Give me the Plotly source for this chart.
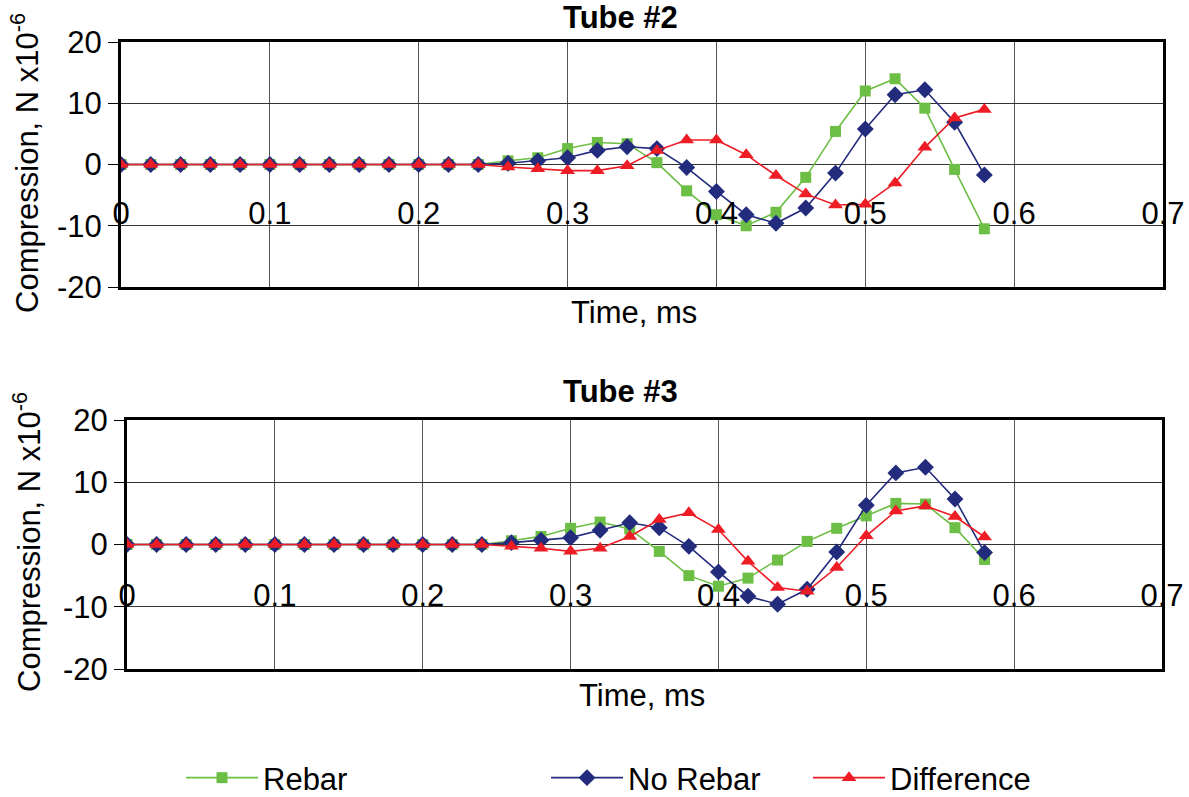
import plotly.graph_objects as go

time_ms = [0.00, 0.02, 0.04, 0.06, 0.08, 0.10, 0.12, 0.14, 0.16, 0.18,
           0.20, 0.22, 0.24, 0.26, 0.28, 0.30, 0.32, 0.34, 0.36, 0.38,
           0.40, 0.42, 0.44, 0.46, 0.48, 0.50, 0.52, 0.54, 0.56, 0.58]

zeros12 = [0] * 12

# Tube #2
t2_rebar = zeros12 + [0, 0.6, 1.1, 2.6, 3.6, 3.4, 0.3, -4.3, -8.2,
                      -10.0, -7.8, -2.1, 5.4, 12.0, 14.0, 9.2, -0.8, -10.5]
t2_norebar = zeros12 + [0, 0.2, 0.6, 1.1, 2.3, 2.9, 2.6, -0.5, -4.4,
                        -8.2, -9.6, -7.1, -1.4, 5.8, 11.4, 12.2, 6.9, -1.7]
t2_diff = zeros12 + [0, -0.4, -0.7, -1.0, -1.0, -0.2, 2.3, 4.0, 4.0,
                     1.6, -1.8, -4.8, -6.6, -6.5, -3.0, 2.8, 7.6, 9.0]

# Tube #3
t3_rebar = zeros12 + [0, 0.6, 1.3, 2.6, 3.6, 2.5, -1.1, -5.0, -6.7,
                      -5.4, -2.5, 0.5, 2.6, 4.6, 6.6, 6.5, 2.7, -2.4]
t3_norebar = zeros12 + [0, 0.3, 0.7, 1.1, 2.3, 3.5, 2.7, -0.3, -4.4,
                        -8.3, -9.6, -7.2, -1.2, 6.3, 11.5, 12.4, 7.3, -1.3]
t3_diff = zeros12 + [0, -0.3, -0.6, -1.1, -0.6, 1.3, 4.0, 5.1, 2.4,
                     -2.7, -6.9, -7.5, -3.7, 1.4, 5.4, 6.2, 4.5, 1.2]

x_tickvals = [0, 0.1, 0.2, 0.3, 0.4, 0.5, 0.6, 0.7]
x_ticktext = ["0", "0.1", "0.2", "0.3", "0.4", "0.5", "0.6", "0.7"]
y_tickvals = [-20, -10, 0, 10, 20]
y_ticktext = ["-20", "-10", "0", "10", "20"]

series_names = ["Rebar", "No Rebar", "Difference"]
colors = ["#6CBE45", "#232B7D", "#EE1C25"]
symbols = ["square", "diamond", "triangle-up"]
sizes = [11, 13, 13]

FONT = "Arial, 'Liberation Sans', sans-serif"
W, H = 1189, 797

fig = go.Figure()

panels = [
    ([t2_rebar, t2_norebar, t2_diff], "x", "y", True),
    ([t3_rebar, t3_norebar, t3_diff], "x2", "y2", False),
]
legends = ["legend", "legend2", "legend3"]
for data, xa, ya, show in panels:
    for i, vals in enumerate(data):
        fig.add_trace(go.Scatter(
            x=time_ms, y=vals, name=series_names[i], mode="lines+markers",
            line=dict(color=colors[i], width=1.6),
            marker=dict(symbol=symbols[i], size=sizes[i], color=colors[i]),
            xaxis=xa, yaxis=ya, showlegend=show, legend=legends[i],
        ))

def px_x(p):
    return p / W

def px_y(p):
    return 1 - p / H

xaxis_common = dict(
    range=[0, 0.7], tickvals=x_tickvals, ticktext=x_ticktext,
    showgrid=True, gridcolor="#555555", gridwidth=1,
    showline=True, linecolor="black", linewidth=3, mirror=True,
    ticks="", zeroline=False, automargin=False,
    tickfont=dict(family=FONT, size=31, color="black"),
    ticklabelstandoff=-103,
)
yaxis_common = dict(
    range=[-20, 20], tickvals=y_tickvals, ticktext=y_ticktext,
    showgrid=True, gridcolor="#333333", gridwidth=1,
    showline=True, linecolor="black", linewidth=3, mirror=True,
    ticks="outside", ticklen=10, tickcolor="black", tickwidth=1,
    zeroline=False, automargin=False,
    tickfont=dict(family=FONT, size=31, color="black"),
)

fig.update_layout(
    width=W, height=H,
    margin=dict(l=0, r=0, t=0, b=0, autoexpand=False),
    paper_bgcolor="white", plot_bgcolor="white",
    font=dict(family=FONT, color="black"),
    xaxis=dict(domain=[px_x(121), px_x(1163)], anchor="y", **xaxis_common),
    yaxis=dict(domain=[px_y(287), px_y(42)], anchor="x", **yaxis_common),
    xaxis2=dict(domain=[px_x(127), px_x(1162)], anchor="y2", **xaxis_common),
    yaxis2=dict(domain=[px_y(669), px_y(420)], anchor="x2", **yaxis_common),
)

leg_common = dict(orientation="h", yanchor="middle", y=px_y(778), xanchor="left",
                  font=dict(family=FONT, size=31, color="black"),
                  bgcolor="rgba(0,0,0,0)", borderwidth=0, itemwidth=72)
fig.update_layout(
    legend=dict(x=px_x(181), **leg_common),
    legend2=dict(x=px_x(546), **leg_common),
    legend3=dict(x=px_x(808), **leg_common),
)

annotations = [
    dict(text="<b>Tube #2</b>", x=px_x(621), y=px_y(18), font=dict(size=31)),
    dict(text="<b>Tube #3</b>", x=px_x(621), y=px_y(391), font=dict(size=31)),
    dict(text="Time, ms", x=px_x(634), y=px_y(312), font=dict(size=31)),
    dict(text="Time, ms", x=px_x(642), y=px_y(695), font=dict(size=31)),
    dict(text="Compression, N x10<sup>-6</sup>", x=px_x(25), y=px_y(163),
         textangle=-90, font=dict(size=31)),
    dict(text="Compression, N x10<sup>-6</sup>", x=px_x(27), y=px_y(542),
         textangle=-90, font=dict(size=31)),
]
for a in annotations:
    a.update(xref="paper", yref="paper", showarrow=False,
             xanchor="center", yanchor="middle")
    a["font"].update(family=FONT, color="black")
fig.update_layout(annotations=annotations)

fig.write_html("out.html")
